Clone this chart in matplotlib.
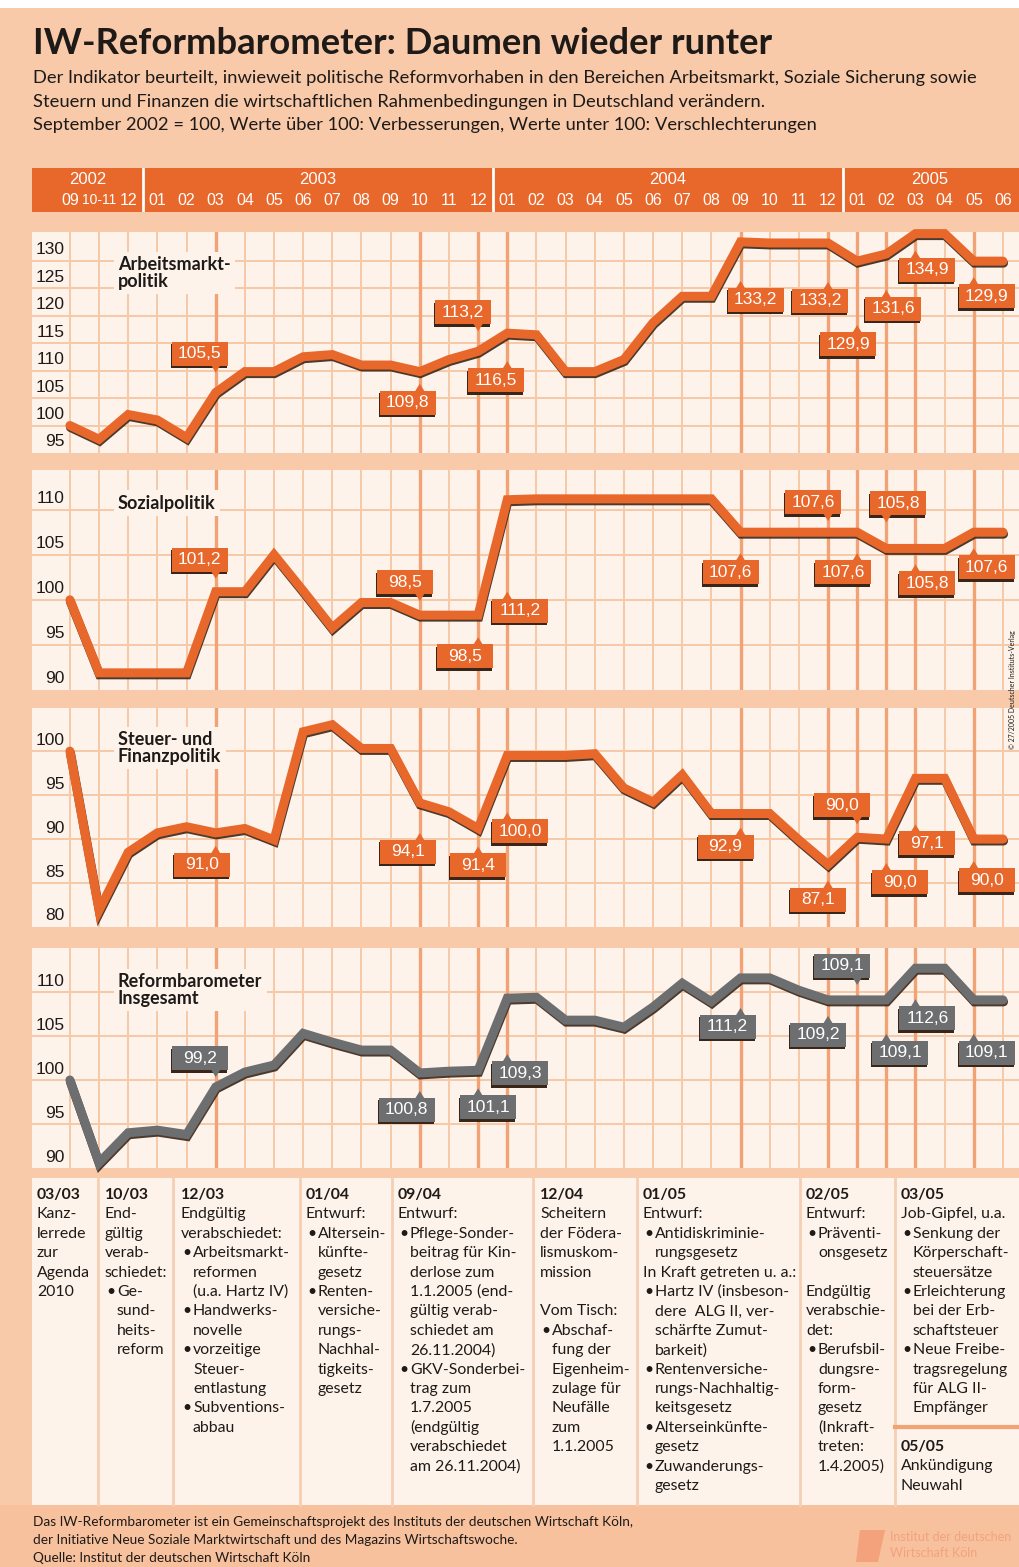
import matplotlib
matplotlib.use('Agg')
import matplotlib.pyplot as plt
import matplotlib.patheffects as pe
from matplotlib import transforms
from matplotlib.patches import Rectangle, Polygon
from matplotlib.text import Text

W, H = 1019, 1567

# ---- data -------------------------------------------------------------
months = ['09', '10-11', '12',
          '01', '02', '03', '04', '05', '06', '07', '08', '09', '10', '11', '12',
          '01', '02', '03', '04', '05', '06', '07', '08', '09', '10', '11', '12',
          '01', '02', '03', '04', '05', '06']
years = ['2002', '2003', '2004', '2005']
year_first = [0, 3, 15, 27]
year_last = [2, 14, 26, 32]

arbeit = [100, 97.5, 102, 101, 97.8, 106, 109.8, 109.8, 112.5, 112.9, 111, 111,
          109.8, 112, 113.5, 116.8, 116.5, 109.8, 109.8, 112, 118.7, 123.5, 123.5,
          133.4, 133.2, 133.2, 133.2, 129.9, 131.2, 134.9, 134.9, 129.9, 129.9]
sozial = [100, 91.9, 91.9, 91.9, 91.9, 100.9, 100.9, 105, 101, 96.9, 99.7, 99.7,
          98.3, 98.3, 98.3, 111.1, 111.2, 111.2, 111.2, 111.2, 111.2, 111.2, 111.2,
          107.5, 107.5, 107.5, 107.5, 107.5, 105.7, 105.7, 105.7, 107.5, 107.5]
steuer = [100, 81.9, 88.5, 90.7, 91.4, 90.7, 91.2, 89.9, 102.2, 103, 100.3, 100.3,
          94.1, 93.1, 91.2, 99.5, 99.5, 99.5, 99.7, 95.8, 94.2, 97.3, 92.9,
          92.9, 92.9, 89.9, 87.1, 90.2, 90, 96.9, 96.9, 90, 90]
gesamt = [100, 90.6, 94, 94.3, 93.8, 99.2, 100.9, 101.7, 105.3, 104.3, 103.4, 103.4,
          100.8, 101, 101.1, 109.3, 109.4, 106.8, 106.8, 106, 108.3, 111, 108.9,
          111.6, 111.6, 110.2, 109.1, 109.1, 109.1, 112.7, 112.7, 109.1, 109.1]

# labelled months (index into months) and the printed values
tag_idx = [5, 12, 14, 15, 23, 26, 27, 28, 29, 31]
arbeit_tags = ['105,5', '109,8', '113,2', '116,5', '133,2', '133,2', '129,9', '131,6', '134,9', '129,9']
sozial_tags = ['101,2', '98,5', '98,5', '111,2', '107,6', '107,6', '107,6', '105,8', '105,8', '107,6']
steuer_tags = ['91,0', '94,1', '91,4', '100,0', '92,9', '87,1', '90,0', '90,0', '97,1', '90,0']
gesamt_tags = ['99,2', '100,8', '101,1', '109,3', '111,2', '109,2', '109,1', '109,1', '112,6', '109,1']

event_idx = [5, 12, 14, 15, 23, 26, 27, 28, 29, 31]

ev_dates = ['03/03', '10/03', '12/03', '01/04', '09/04', '12/04', '01/05', '02/05', '03/05', '05/05']
ev_texts = [
    ['Kanz-', 'lerrede', 'zur', 'Agenda', '2010'],
    ['End-', 'gültig', 'verab-', 'schiedet:', '• Ge-', '  sund-', '  heits-', '  reform'],
    ['Endgültig', 'verabschiedet:', '• Arbeitsmarkt-', '  reformen', '  (u.a. Hartz IV)',
     '• Handwerks-', '  novelle', '• vorzeitige', '  Steuer-', '  entlastung',
     '• Subventions-', '  abbau'],
    ['Entwurf:', '• Altersein-', '  künfte-', '  gesetz', '• Renten-', '  versiche-',
     '  rungs-', '  Nachhal-', '  tigkeits-', '  gesetz'],
    ['Entwurf:', '• Pflege-Sonder-', '  beitrag für Kin-', '  derlose zum', '  1.1.2005 (end-',
     '  gültig verab-', '  schiedet am', '  26.11.2004)', '• GKV-Sonderbei-', '  trag zum',
     '  1.7.2005', '  (endgültig', '  verabschiedet', '  am 26.11.2004)'],
    ['Scheitern', 'der Födera-', 'lismuskom-', 'mission', '', 'Vom Tisch:', '• Abschaf-',
     '  fung der', '  Eigenheim-', '  zulage für', '  Neufälle', '  zum', '  1.1.2005'],
    ['Entwurf:', '• Antidiskriminie-', '  rungsgesetz', 'In Kraft getreten u. a.:',
     '• Hartz IV (insbeson-', '  dere  ALG II, ver-', '  schärfte Zumut-', '  barkeit)',
     '• Rentenversiche-', '  rungs-Nachhaltig-', '  keitsgesetz', '• Alterseinkünfte-',
     '  gesetz', '• Zuwanderungs-', '  gesetz'],
    ['Entwurf:', '• Präventi-', '  onsgesetz', '', 'Endgültig', 'verabschie-', 'det:',
     '• Berufsbil-', '  dungsre-', '  form-', '  gesetz', '  (Inkraft-', '  treten:',
     '  1.4.2005)'],
    ['Job-Gipfel, u.a.', '• Senkung der', '  Körperschaft-', '  steuersätze',
     '• Erleichterung', '  bei der Erb-', '  schaftsteuer', '• Neue Freibe-',
     '  tragsregelung', '  für ALG II-', '  Empfänger'],
    ['Ankündigung', 'Neuwahl'],
]

# ---- style / layout ---------------------------------------------------
PAGE = '#F8CAAA'
PANEL = '#FEF3EA'
GRID = '#F6C9A8'
EVT = '#F1A375'
ORANGE = '#E8672A'
GRAY = '#6D6E70'
DARK = '#1E1A18'
SHADOW = '#3A2618'
PROSE = ['Lato', 'DejaVu Sans']
SANS = ['Liberation Sans', 'DejaVu Sans']

X0, X1 = -1.30, 32.55     # data range of the panels (px 32 .. 1019)

fig = plt.figure(figsize=(W / 100, H / 100), dpi=100, facecolor=PAGE)

bg = fig.add_axes([0, 0, 1, 1], zorder=-10)
bg.set_xlim(0, W)
bg.set_ylim(H, 0)
bg.axis('off')


def px_axes(x0, y0, x1, y1, **kw):
    return fig.add_axes([x0 / W, 1 - y1 / H, (x1 - x0) / W, (y1 - y0) / H], **kw)


bg.add_patch(Rectangle((0, 0), W, 8, fc='white', ec='none'))
bg.add_patch(Rectangle((0, 1505), W, 62, fc='#F7C19D', ec='none'))

# title
bg.text(33, 44, 'IW-Reformbarometer: Daumen wieder runter', fontsize=26.2, weight='bold',
        family=PROSE, color=DARK, va='center')
subtitle = ['Der Indikator beurteilt, inwieweit politische Reformvorhaben in den Bereichen '
            'Arbeitsmarkt, Soziale Sicherung sowie',
            'Steuern und Finanzen die wirtschaftlichen Rahmenbedingungen in Deutschland verändern.',
            'September 2002 = 100, Werte über 100: Verbesserungen, Werte unter 100: Verschlechterungen']
for k, line in enumerate(subtitle):
    bg.text(33, 78 + k * 23.5, line, fontsize=13.2, family=PROSE, color=DARK, va='center')

# header band with years and months
hd = px_axes(32, 168, W, 212, facecolor=ORANGE)
hd.set_xlim(X0, X1)
hd.set_ylim(0, 1)
hd.set_xticks([])
hd.set_yticks([])
for s in hd.spines.values():
    s.set_visible(False)
for i, m in enumerate(months):
    hd.text(i, 0.27, m, color='white', fontsize=11.5 if len(m) == 2 else 10,
            family=SANS, ha='center', va='center')
for k, yr in enumerate(years):
    lo = X0 if k == 0 else year_first[k] - 0.5
    hd.text((lo + year_last[k] + 0.5) / 2, 0.74, yr, color='white', fontsize=12,
            family=SANS, ha='center', va='center')
    if k > 0:
        hd.axvline(year_first[k] - 0.5, color='white', lw=2)


def tag(ax, i, v, text, dx, dy, col):
    base = transforms.IdentityTransform() + transforms.ScaledTranslation(i, v, ax.transData)
    w, h = 56, 24
    fig.add_artist(Rectangle((dx - w / 2 - 1, dy - h / 2 - 2.5), w, h, fc=SHADOW, ec='none',
                             transform=base, zorder=8))
    fig.add_artist(Rectangle((dx - w / 2, dy - h / 2), w, h, fc=col, ec='none',
                             transform=base, zorder=9))
    if dy < 0:
        ye = dy + h / 2
        tri = [(-5, ye - 1), (5, ye - 1), (0, ye + 7)]
    else:
        ye = dy - h / 2
        tri = [(-5, ye + 1), (5, ye + 1), (0, ye - 7)]
    fig.add_artist(Polygon(tri, closed=True, fc=col, ec='none', transform=base, zorder=9))
    fig.add_artist(Text(dx, dy, text, color='white', fontsize=12.5, family=SANS,
                        ha='center', va='center', transform=base, zorder=10))


panels = [
    dict(vals=arbeit, tags=arbeit_tags, top=232, bot=453, ylim=(95, 135.2),
         ticks=[95, 100, 105, 110, 115, 120, 125, 130], col=ORANGE,
         title='Arbeitsmarkt-\npolitik', ty=273,
         off=[(-16, 39), (-12, -31), (-15, 39), (-11, -47), (15, -58), (-8, -58),
              (-9, -83), (7, -55), (12, -36), (13, -35)]),
    dict(vals=sozial, tags=sozial_tags, top=470, bot=690, ylim=(90, 114.4),
         ticks=[90, 95, 100, 105, 110], col=ORANGE, title='Sozialpolitik', ty=503,
         off=[(-16, 32), (-15, 33), (-13, -41), (13, -111), (-10, -40), (-15, 30),
              (-14, -40), (12, 45), (12, -35), (13, -35)]),
    dict(vals=steuer, tags=steuer_tags, top=708, bot=927, ylim=(80, 104.9),
         ticks=[80, 85, 90, 95, 100], col=ORANGE, title='Steuer- und\nFinanzpolitik', ty=748,
         off=[(-14, -32), (-12, -49), (0, -37), (13, -76), (-15, -33), (-10, -35),
              (-15, 32), (14, -43), (12, -65), (13, -41)]),
    dict(vals=gesamt, tags=gesamt_tags, top=948, bot=1168, ylim=(90, 115),
         ticks=[90, 95, 100, 105, 110], col=GRAY, title='Reformbarometer\nInsgesamt', ty=990,
         off=[(-16, 29), (-13, -37), (10, -37), (13, -75), (-13, -49), (-10, -35),
              (-15, 34), (14, -53), (12, -50), (13, -53)]),
]

xs = list(range(len(months)))
for p in panels:
    ax = px_axes(32, p['top'], W, p['bot'], facecolor=PANEL)
    ax.set_xlim(X0, X1)
    ax.set_ylim(*p['ylim'])
    ax.set_xticks([])
    ax.set_yticks([])
    for s in ax.spines.values():
        s.set_visible(False)
    for t in p['ticks'][1:]:
        ax.axhline(t, color=GRID, lw=1.4, zorder=1)
    for i in xs:
        ax.axvline(i, color=GRID, lw=1.4, zorder=1)
    for i in event_idx:
        ax.axvline(i, color=EVT, lw=2.4, zorder=2)
    for t in p['ticks']:
        ax.annotate(str(t), xy=(-0.17, t), xytext=(0, 11), textcoords='offset pixels',
                    ha='right', va='center', fontsize=12.5, family=SANS, color=DARK, zorder=3)
    ax.text(118, p['ty'], p['title'], transform=bg.transData, fontsize=13, weight='bold',
            family=PROSE, color=DARK, va='center', ha='left', linespacing=1.0, zorder=3,
            bbox=dict(fc=PANEL, ec='none', pad=3))
    ax.plot(xs, p['vals'], color=p['col'], lw=6.5, solid_joinstyle='miter',
            solid_capstyle='round', clip_on=False, zorder=5,
            path_effects=[pe.SimpleLineShadow(offset=(0.4, -1.4), shadow_color=SHADOW, alpha=0.9),
                          pe.Normal()])
    for k, i in enumerate(tag_idx):
        dx, dy = p['off'][k]
        tag(ax, i, p['vals'][i], p['tags'][k], dx, dy, p['col'])

fig.text(1013 / W, 1 - 690 / H, '© 27/2005 Deutscher Instituts-Verlag', rotation=90,
         fontsize=5, family=PROSE, color=DARK, ha='center', va='center')

# ---- event table -----------------------------------------------------
bg.add_patch(Rectangle((32, 1178), W - 32, 327, fc=PANEL, ec='none'))
for xsep in [98, 173, 300, 392, 533, 637, 800, 895]:
    bg.plot([xsep, xsep], [1178, 1505], color='#F6CFB3', lw=2)
bg.plot([895, W], [1427, 1427], color=EVT, lw=3)

ev_x = [37, 105, 181, 306, 398, 540, 643, 806, 901, 901]
ev_y = [1195, 1195, 1195, 1195, 1195, 1195, 1195, 1195, 1195, 1447]
LS = 19.4
FS = 11.4
for k, d in enumerate(ev_dates):
    x0, y0 = ev_x[k], ev_y[k]
    bg.text(x0, y0, d, fontsize=FS, weight='bold', family=PROSE, color=DARK, va='center')
    for j, line in enumerate(ev_texts[k]):
        yy = y0 + (j + 1) * LS
        if line.startswith('• '):
            bg.text(x0 + 1, yy, '•', fontsize=FS, family=PROSE, color=DARK, va='center')
            bg.text(x0 + 12, yy, line[2:], fontsize=FS, family=PROSE, color=DARK, va='center')
        elif line.startswith('  '):
            bg.text(x0 + 12, yy, line[2:], fontsize=FS, family=PROSE, color=DARK, va='center')
        else:
            bg.text(x0, yy, line, fontsize=FS, family=PROSE, color=DARK, va='center')

# ---- footer ----------------------------------------------------------
footer = ['Das IW-Reformbarometer ist ein Gemeinschaftsprojekt des Instituts der deutschen '
          'Wirtschaft Köln,',
          'der Initiative Neue Soziale Marktwirtschaft und des Magazins Wirtschaftswoche.',
          'Quelle: Institut der deutschen Wirtschaft Köln']
for k, line in enumerate(footer):
    bg.text(33, 1522 + k * 18, line, fontsize=9.8, family=PROSE, color=DARK, va='center')
bg.add_patch(Polygon([(860, 1530), (885, 1530), (878, 1562), (856, 1562)], closed=True,
                     fc='#F3A27C', ec='none'))
bg.text(890, 1537, 'Institut der deutschen', fontsize=9, family=PROSE, color='#F3A27C',
        va='center')
bg.text(890, 1553, 'Wirtschaft Köln', fontsize=9, family=PROSE, color='#F3A27C', va='center')

fig.savefig('out.png', dpi=100, facecolor=PAGE)
